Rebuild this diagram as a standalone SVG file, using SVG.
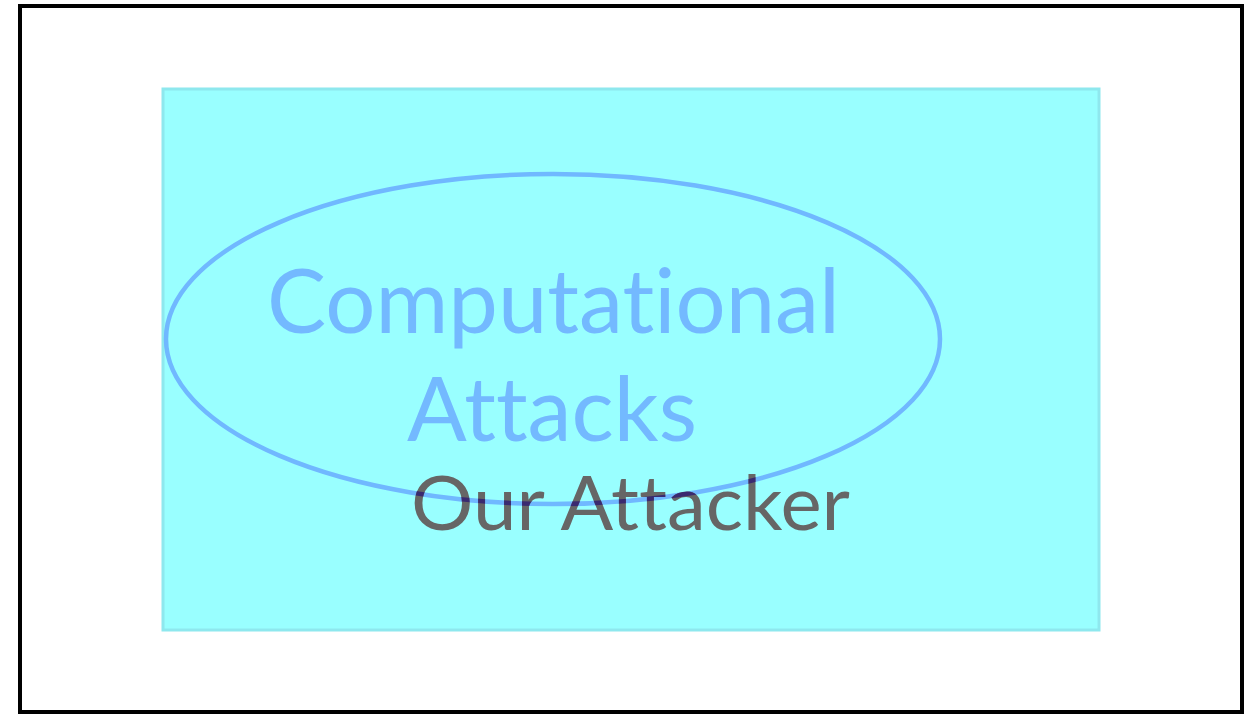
<svg xmlns="http://www.w3.org/2000/svg" width="1254" height="714" viewBox="0 0 1254 714">
<style>
.t{font-family:"Lato","Open Sans","DejaVu Sans",sans-serif;font-variant-ligatures:none}
</style>
<defs>
<clipPath id="ourClip"><text class="t" x="411" y="530" font-size="76" textLength="439" lengthAdjust="spacingAndGlyphs">Our Attacker</text></clipPath>
</defs>
<rect width="1254" height="714" fill="#ffffff"/>
<g id="frame"><rect x="20" y="6" width="1222" height="706" fill="#ffffff" stroke="#000000" stroke-width="4"/></g>
<g id="attacker-region">
<rect x="163" y="89" width="936" height="541" fill="#99ffff" stroke="#8ee8ee" stroke-width="3"/>
</g>
<g id="computational">
<text class="t" x="267" y="333" font-size="89" fill="#73b9ff" textLength="573" lengthAdjust="spacingAndGlyphs">Computational</text>
<text class="t" x="407" y="441" font-size="89" fill="#73b9ff" textLength="290" lengthAdjust="spacingAndGlyphs">Attacks</text>
<ellipse cx="553" cy="339" rx="387" ry="165" fill="none" stroke="#70b8ff" stroke-width="4.5"/>
</g>
<g id="attacker-label">
<text class="t" x="411" y="530" font-size="76" fill="#666666" textLength="439" lengthAdjust="spacingAndGlyphs">Our Attacker</text>
<ellipse cx="553" cy="339" rx="387" ry="165" fill="none" stroke="#3a2a70" stroke-width="4.5" clip-path="url(#ourClip)"/>
</g>
</svg>
